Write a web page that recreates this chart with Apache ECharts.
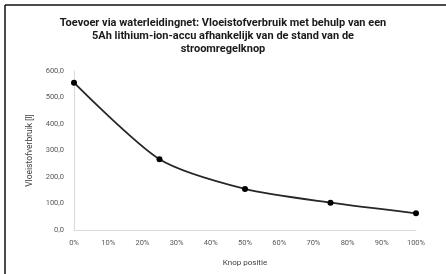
<!DOCTYPE html>
<html>
<head>
<meta charset="utf-8">
<script src="https://cdn.jsdelivr.net/npm/echarts@6/dist/echarts.min.js"></script>
<style>
  html, body { margin: 0; padding: 0; background: #fff; }
  #chart { width: 446px; height: 274px; }
</style>
</head>
<body>
<div id="chart"></div>
<script>
const titleLines = [
  'Toevoer via waterleidingnet: Vloeistofverbruik met behulp van een',
  '5Ah lithium-ion-accu afhankelijk van de stand van de',
  'stroomregelknop',
]
const knopPositie = [0, 25, 50, 75, 100]
const verbruik = [556, 267, 155, 103, 63]
const yTicks = [0, 100, 200, 300, 400, 500, 600]

const chart = echarts.init(document.getElementById('chart'))

chart.setOption({
  backgroundColor: '#fff',
  animation: false,
  title: {
    text: titleLines.join('\n'),
    left: 'center',
    top: 12,
    textStyle: {
      fontFamily: 'Roboto, sans-serif',
      fontWeight: 'bold',
      fontSize: 11,
      lineHeight: 13,
      color: '#1a1a1a',
    },
  },
  grid: { left: 74, right: 30, top: 71, bottom: 44 },
  xAxis: {
    type: 'value',
    min: 0,
    max: 100,
    interval: 10,
    name: 'Knop positie',
    nameLocation: 'middle',
    nameGap: 29,
    nameTextStyle: { color: '#404040', fontSize: 8, fontFamily: 'Roboto, sans-serif' },
    axisLine: { lineStyle: { color: '#d9d9d9', width: 1 } },
    axisTick: { show: false },
    splitLine: { show: false },
    axisLabel: {
      color: '#595959',
      fontSize: 7.5,
      margin: 9,
      fontFamily: 'Roboto, sans-serif',
      formatter: (v) => v + '%',
    },
  },
  yAxis: {
    type: 'value',
    min: yTicks[0],
    max: yTicks[yTicks.length - 1],
    interval: 100,
    name: 'Vloeistofverbruik [l]',
    nameLocation: 'middle',
    nameGap: 37,
    nameTextStyle: { color: '#404040', fontSize: 8.5, fontFamily: 'Roboto, sans-serif' },
    axisLine: { show: true, lineStyle: { color: '#d9d9d9', width: 1 } },
    axisTick: { show: false },
    splitLine: { show: false },
    axisLabel: {
      color: '#595959',
      fontSize: 7.5,
      margin: 10,
      fontFamily: 'Roboto, sans-serif',
      formatter: (v) => v.toFixed(1).replace('.', ','),
    },
  },
  series: [
    {
      type: 'line',
      smooth: 0.25,
      data: knopPositie.map((x, i) => [x, verbruik[i]]),
      symbol: 'circle',
      symbolSize: 6,
      lineStyle: { color: '#262626', width: 1.8 },
      itemStyle: { color: '#000' },
    },
  ],
  graphic: [
    { type: 'line', shape: { x1: 5, y1: 5, x2: 446, y2: 5 }, style: { stroke: '#111', lineWidth: 1.5 } },
    { type: 'line', shape: { x1: 5, y1: 5, x2: 5, y2: 274 }, style: { stroke: '#111', lineWidth: 1.5 } },
  ],
})
</script>
</body>
</html>
